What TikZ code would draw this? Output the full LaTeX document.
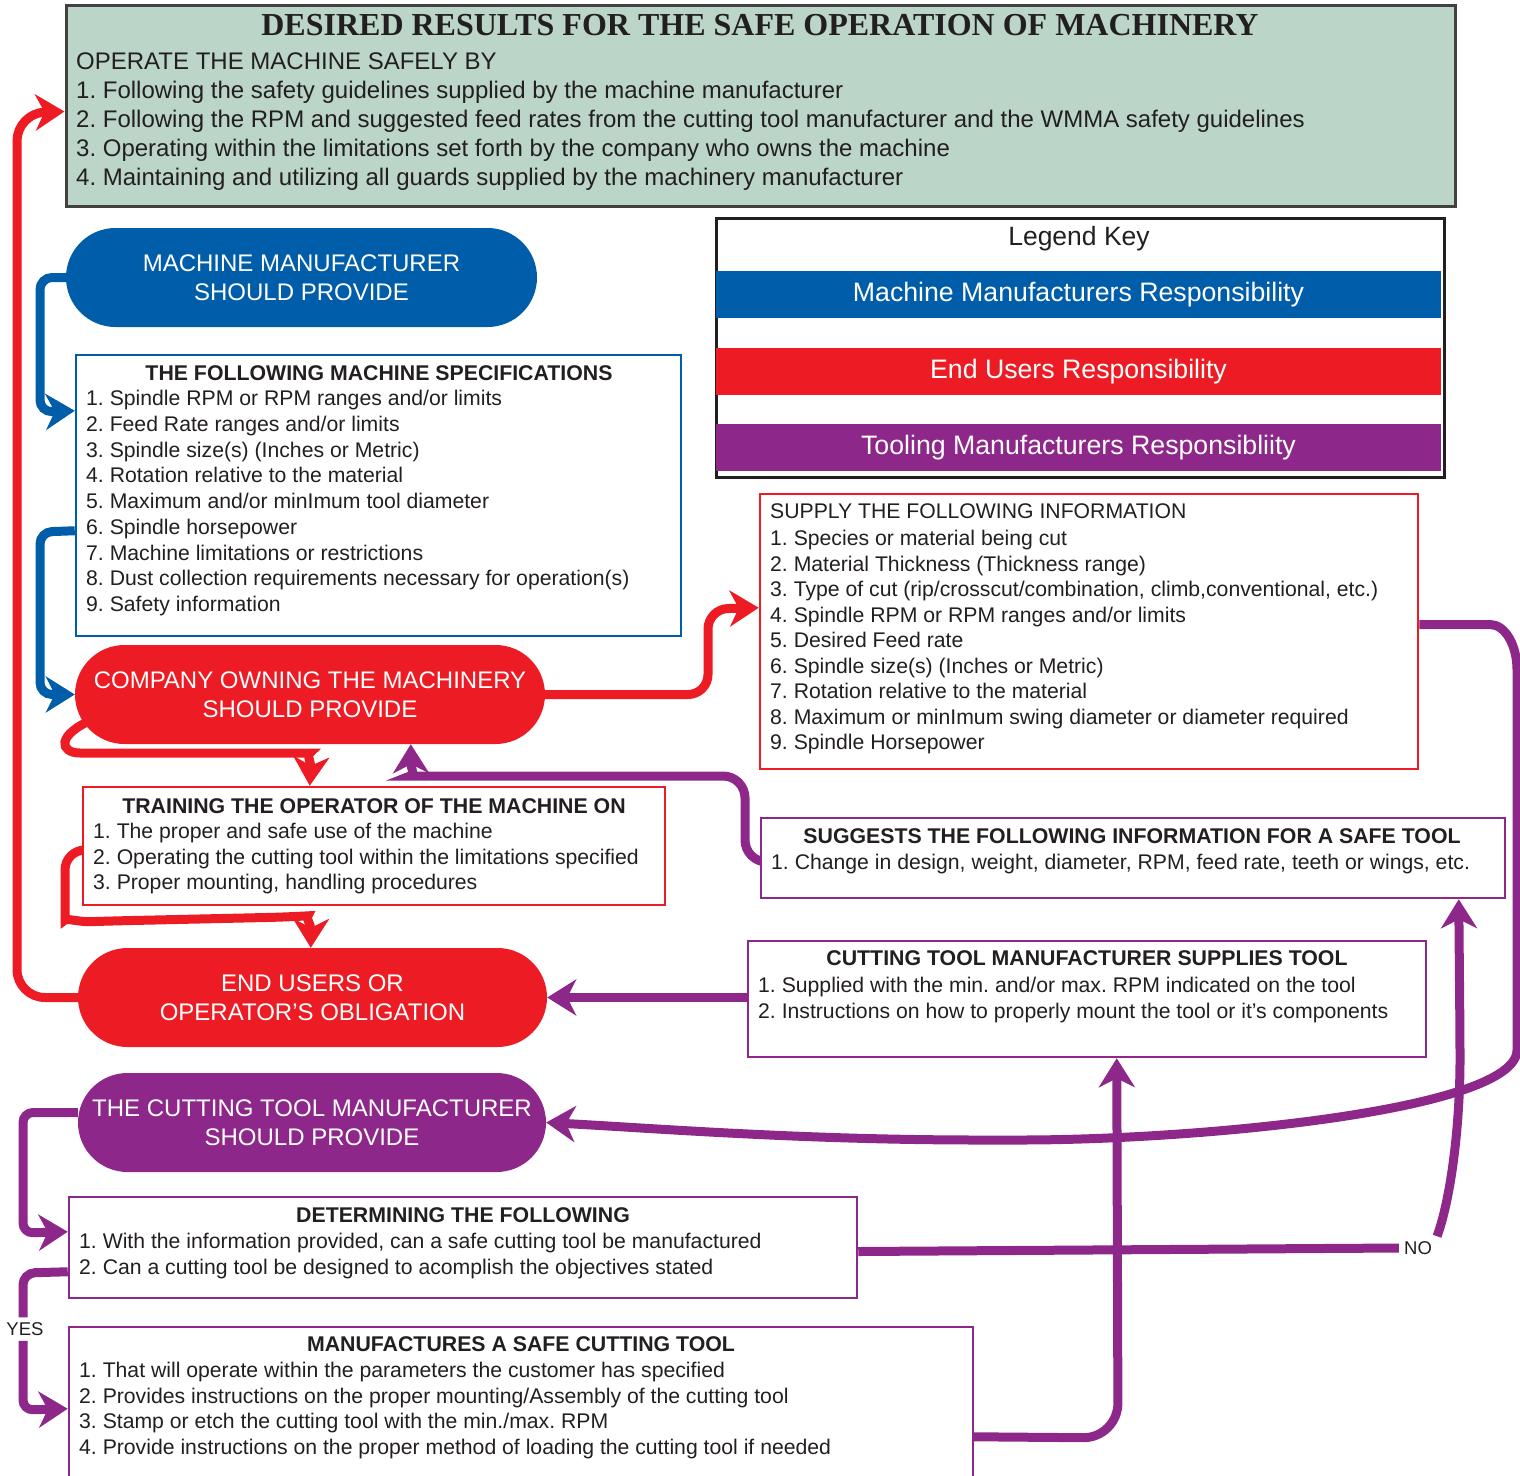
\documentclass[tikz,border=0pt]{standalone}
\usepackage{fontspec}
\setmainfont{Liberation Sans}
\newfontfamily\titlefont{Liberation Serif}
\usetikzlibrary{arrows.meta,calc,backgrounds,positioning}
\definecolor{mmblue}{HTML}{005DAA}
\definecolor{eured}{HTML}{ED1C24}
\definecolor{tmpurple}{HTML}{8E278A}
\definecolor{resgreen}{HTML}{BBD5C8}
\definecolor{ink}{HTML}{231F20}
\frenchspacing
\tikzstyle{pill}=[rounded corners=49.5pt, minimum height=99pt, text=white, align=center,
                font=\fontsize{24}{29}\selectfont, inner sep=0pt,
                execute at begin node=\rule{0pt}{30pt}]
\tikzstyle{infobox}=[draw, fill=white, line width=2.5pt, inner sep=0pt]
\tikzstyle{keybar}=[minimum width=725pt, minimum height=47pt, inner sep=0pt, text=white,
                font=\fontsize{26.7}{30}\selectfont]
\tikzstyle{head}=[font=\fontsize{21.3}{25}\selectfont\bfseries, text=ink, inner sep=0pt,
                text height=15.3pt, text depth=0pt]
\tikzstyle{item}=[font=\fontsize{21.2}{25}\selectfont, text=ink, anchor=west, inner sep=0pt,
                text height=19.5pt, text depth=4.5pt]
\tikzstyle{intro}=[item, font=\fontsize{24}{28}\selectfont, text height=20.5pt, text depth=5pt]
\tikzstyle{answer}=[font=\fontsize{18.5}{21}\selectfont, text=ink, inner sep=5pt]
\tikzstyle{flow}=[line width=9pt, rounded corners=20pt,
                -{Stealth[length=29pt,width=36pt,inset=9pt]}]

\begin{document}
\begin{tikzpicture}[x=1pt,y=-1pt]
\useasboundingbox (0,0) rectangle (1520,1475);

% desired results
\node[draw=ink!85, fill=resgreen, line width=3pt, minimum width=1389pt, minimum height=201pt,
      inner sep=0pt] (results) at (760.5,105.5) {};
\node[font=\titlefont\fontsize{32}{36}\selectfont\bfseries, text=ink, inner sep=0pt]
      (resultsT) at (760,25) {DESIRED RESULTS FOR THE SAFE OPERATION OF MACHINERY};
\node[intro] (resultsH) at (76,62) {OPERATE THE MACHINE SAFELY BY};
\foreach \t [count=\i] in {Following the safety guidelines supplied by the machine manufacturer,
    Following the RPM and suggested feed rates from the cutting tool manufacturer and the WMMA safety guidelines,
    Operating within the limitations set forth by the company who owns the machine,
    Maintaining and utilizing all guards supplied by the machinery manufacturer}
  \node[intro] (results-\i) at (76,{62+29*\i}) {\i. \t};

% legend
\node[draw=ink, line width=3pt, fill=white, minimum width=728pt, minimum height=259pt,
      inner sep=0pt] (legend) at (1080,347.5) {};
\node[font=\fontsize{26.5}{30}\selectfont, text=ink] (legendT) at (1079,239) {Legend Key};
\node[keybar, fill=mmblue] (keyMM) at (1078.5,294.5) {Machine Manufacturers Responsibility};
\node[keybar, fill=eured] (keyEU) at (1078.5,371.5) {End Users Responsibility};
\node[keybar, fill=tmpurple] (keyTM) at (1078.5,447.5) {Tooling Manufacturers Responsibliity};

% machine manufacturer
\node[pill, fill=mmblue, minimum width=471pt] (mm) at (301.5,277.5)
      {MACHINE MANUFACTURER\\SHOULD PROVIDE};
\node[infobox, draw=mmblue, minimum width=605pt, minimum height=281pt] (spec) at (378.5,495.5) {};
\node[head] (specH) at (379,373) {THE FOLLOWING MACHINE SPECIFICATIONS};
\foreach \t [count=\i] in {Spindle RPM or RPM ranges and/or limits, Feed Rate ranges and/or limits,
    Spindle size(s) (Inches or Metric), Rotation relative to the material,
    Maximum and/or minImum tool diameter, Spindle horsepower, Machine limitations or restrictions,
    Dust collection requirements necessary for operation(s), Safety information}
  \node[item] (spec-\i) at (86,{398+25.75*(\i-1)}) {\i. \t};

% company owning the machinery
\node[pill, fill=eured, minimum width=470pt] (co) at (310,694.5)
      {COMPANY OWNING THE MACHINERY\\SHOULD PROVIDE};
\node[infobox, draw=eured, minimum width=658pt, minimum height=275pt] (supply) at (1089,631.5) {};
\node[item] (supplyH) at (770,511) {SUPPLY THE FOLLOWING INFORMATION};
\foreach \t [count=\i] in {Species or material being cut, Material Thickness (Thickness range),
    {Type of cut (rip/crosscut/combination, climb,conventional, etc.)},
    Spindle RPM or RPM ranges and/or limits, Desired Feed rate, Spindle size(s) (Inches or Metric),
    Rotation relative to the material, Maximum or minImum swing diameter or diameter required,
    Spindle Horsepower}
  \node[item] (supply-\i) at (770,{538+25.5*(\i-1)}) {\i. \t};
\node[infobox, draw=eured, minimum width=582pt, minimum height=118pt] (train) at (374,846) {};
\node[head] (trainH) at (374,806) {TRAINING THE OPERATOR OF THE MACHINE ON};
\foreach \t [count=\i] in {The proper and safe use of the machine,
    Operating the cutting tool within the limitations specified,
    {Proper mounting, handling procedures}}
  \node[item] (train-\i) at (93,{831+25.5*(\i-1)}) {\i. \t};

% end users
\node[pill, fill=eured, minimum width=469pt] (eu) at (312.5,997.5)
      {END USERS OR\\OPERATOR’S OBLIGATION};

% cutting tool manufacturer
\node[infobox, draw=tmpurple, minimum width=744pt, minimum height=80pt] (suggest) at (1133,858) {};
\node[head] (suggestH) at (1132,836) {SUGGESTS THE FOLLOWING INFORMATION FOR A SAFE TOOL};
\node[item] (suggest-1) at (771,862)
      {1. Change in design, weight, diameter, RPM, feed rate, teeth or wings, etc.};
\node[infobox, draw=tmpurple, minimum width=678pt, minimum height=116pt] (tool) at (1087,999) {};
\node[head] (toolH) at (1087,958) {CUTTING TOOL MANUFACTURER SUPPLIES TOOL};
\foreach \t [count=\i] in {Supplied with the min. and/or max. RPM indicated on the tool,
    Instructions on how to properly mount the tool or it's components}
  \node[item] (tool-\i) at (758,{985+25.5*(\i-1)}) {\i. \t};
\node[pill, fill=tmpurple, minimum width=468pt] (ct) at (312,1122.5)
      {THE CUTTING TOOL MANUFACTURER\\SHOULD PROVIDE};
\node[infobox, draw=tmpurple, minimum width=788pt, minimum height=101pt] (det) at (463,1247.5) {};
\node[head] (detH) at (463,1215) {DETERMINING THE FOLLOWING};
\foreach \t [count=\i] in {{With the information provided, can a safe cutting tool be manufactured},
    Can a cutting tool be designed to acomplish the objectives stated}
  \node[item] (det-\i) at (79,{1241+25.5*(\i-1)}) {\i. \t};
\node[infobox, draw=tmpurple, minimum width=904pt, minimum height=153pt] (make) at (521,1403.5) {};
\node[head] (makeH) at (521,1344) {MANUFACTURES A SAFE CUTTING TOOL};
\foreach \t [count=\i] in {That will operate within the parameters the customer has specified,
    Provides instructions on the proper mounting/Assembly of the cutting tool,
    Stamp or etch the cutting tool with the min./max. RPM,
    Provide instructions on the proper method of loading the cutting tool if needed}
  \node[item] (make-\i) at (79,{1370+25.6*(\i-1)}) {\i. \t};
\node[answer] (yes) at (25,1329) {YES};
\node[answer] (no) at (1418,1248) {NO};

\begin{pgfonlayer}{background}
% red
\draw[flow, draw=eured, rounded corners=28pt] (eu.west) -- (17,997.5) -- (17,113)
      -- ($(results.north west)+(0,108)$);
\draw[flow, draw=eured] (co.east) -- (708,694.5) -- (708,609) -- ($(supply.north west)+(0,115)$);
\draw[flow, draw=eured] ($(co.west)+(20,24)$) .. controls (55,735) and (60,753) .. (100,753)
      -- (290,753) .. controls (306,753) and (311,762) .. ($(train.north west)+(228,0)$);
\draw[flow, draw=eured] ($(train.west)+(0,4)$) -- (65,850) -- (65,900)
      .. controls (65,918) and (80,922) .. (110,921) -- (288,917)
      .. controls (305,916) and (311,925) .. ($(eu.north west)+(233,0)$);
% blue
\draw[flow, draw=mmblue, rounded corners=12pt] (mm.west) -- (40,277.5) -- (40,412)
      -- ($(spec.north west)+(0,57)$);
\draw[flow, draw=mmblue, rounded corners=12pt] ($(spec.north west)+(0,177)$) -- (40,532)
      -- (40,694.5) -- (co.west);
% purple
\draw[flow, draw=tmpurple, rounded corners=22pt] ($(suggest.west)+(0,4)$) -- (745,862) -- (745,776)
      -- (432,776) .. controls (416,776) and (411,770) .. ($(co.south west)+(336,0)$);
\draw[flow, draw=tmpurple] (tool.west |- eu.east) -- (eu.east);
\draw[flow, draw=tmpurple] ($(supply.east)+(0,-7)$) -- (1470,624.5)
      .. controls (1505,624.5) and (1517,645) .. (1517,690) -- (1517,1030)
      .. controls (1517,1110) and (1200,1140) .. (1000,1140)
      .. controls (800,1140) and (650,1128) .. (ct.east);
\draw[flow, draw=tmpurple, -] ($(det.east)+(0,4)$) -- (no.west);
\draw[flow, draw=tmpurple] (no.north east) .. controls (1452,1195) and (1460,1120) .. (1460,1040)
      -- ($(suggest.south west)+(699,0)$);
\draw[flow, draw=tmpurple, rounded corners=35pt] ($(make.north west)+(904,111)$) -- (1118,1438)
      -- ($(tool.south west)+(370,0)$);
\draw[flow, draw=tmpurple, rounded corners=10pt] ($(ct.west)+(0,-10)$) -- (23,1112.5) -- (23,1233)
      -- ($(det.north west)+(0,36)$);
\draw[flow, draw=tmpurple, -, rounded corners=12pt] ($(det.north west)+(0,76)$) -- (23,1273)
      -- (23,0 |- yes.north);
\draw[flow, draw=tmpurple, rounded corners=10pt] (23,0 |- yes.south) -- (23,1410)
      -- ($(make.north west)+(0,83)$);
\end{pgfonlayer}
\end{tikzpicture}
\end{document}
